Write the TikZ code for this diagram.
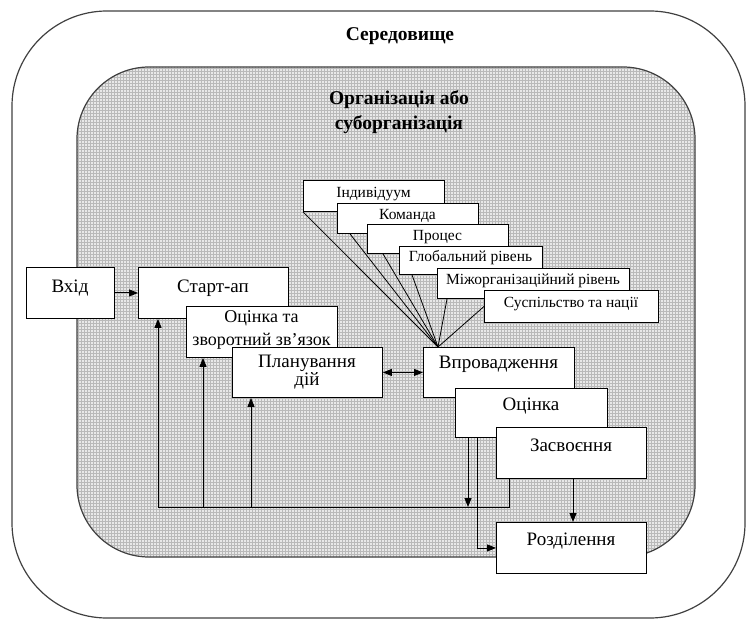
\documentclass[tikz,border=0pt]{standalone}
\usepackage{fontspec}
\setmainfont{Liberation Serif}
\usetikzlibrary{arrows.meta,patterns,calc}
\begin{document}
\begin{tikzpicture}[x=1pt,y=-1pt,
  box/.style={draw=black, line width=0.9pt, fill=white, anchor=north west, inner sep=0pt},
  maintext/.style={font=\fontsize{19}{23}\selectfont, align=center, inner sep=0pt},
  smalltext/.style={font=\fontsize{15.5}{17}\selectfont, inner sep=0pt},
  titletext/.style={font=\bfseries\fontsize{19.5}{25}\selectfont, align=center, inner sep=0pt},
  arr/.style={line width=0.9pt, -{Triangle[length=9pt,width=7pt]}},
  arrboth/.style={line width=0.9pt, {Triangle[length=9pt,width=7pt]}-{Triangle[length=9pt,width=7pt]}},
  ln/.style={line width=0.8pt},
  frame/.style={line width=1.2pt, draw=black!75}
]
\useasboundingbox (0,0) rectangle (747,620);
% environment
\draw[frame, rounded corners=95pt] (12,11) rectangle (745,618);
% organisation
\fill[gray!18, rounded corners=72pt] (77,67) rectangle (695,557);
\fill[pattern=grid, pattern color=gray!55, rounded corners=72pt] (77,67) rectangle (695,557);
\draw[frame, rounded corners=72pt] (77,67) rectangle (695,557);

\node[titletext] (env) at (400,36) {Середовище};
\node[titletext] (org) at (399,112) {Організація або\\суборганізація};

% left chain
\node[box, minimum width=88pt, minimum height=51pt] (vhid) at (26,267) {};
\node[maintext] (vhidt) at (70,288) {Вхід};
\node[box, minimum width=150pt, minimum height=51pt] (start) at (138,267) {};
\node[maintext] (startt) at (213,288) {Старт-ап};
\node[box, minimum width=151pt, minimum height=51pt] (ozv) at (186,306) {};
\node[maintext, font=\fontsize{18}{22.5}\selectfont] (ozvt) at (261.5,330) {Оцінка та\\зворотний зв’язок};
\node[box, minimum width=150pt, minimum height=50pt] (plan) at (232,347) {};
\node[maintext] (plant) at (307,372) {Планування\\[-5pt]дій};

% right chain
\node[box, minimum width=151pt, minimum height=50pt] (vpr) at (423,347) {};
\node[maintext] (vprt) at (498.5,364) {Впровадження};
\node[box, minimum width=152pt, minimum height=49pt] (ots) at (455,388) {};
\node[maintext] (otst) at (531,406) {Оцінка};
\node[box, minimum width=150pt, minimum height=51pt] (zasv) at (496,427) {};
\node[maintext] (zasvt) at (571,445) {Засвоєння};
\node[box, minimum width=150pt, minimum height=51pt] (rozd) at (496,522) {};
\node[maintext] (rozdt) at (571,541) {Розділення};

% levels
\node[box, minimum width=141pt, minimum height=31pt] (ind) at (303,180) {};
\node[smalltext] (indt) at (373.5,194) {Індивідуум};
\node[box, minimum width=141pt, minimum height=30pt] (kom) at (337,203) {};
\node[smalltext] (komt) at (407.5,216) {Команда};
\node[box, minimum width=141pt, minimum height=29pt] (proc) at (367,224) {};
\node[smalltext] (proct) at (437.5,237) {Процес};
\node[box, minimum width=143pt, minimum height=28pt] (glob) at (399,246) {};
\node[smalltext] (globt) at (470.5,258) {Глобальний рівень};
\node[box, minimum width=192pt, minimum height=30pt] (mizh) at (437,268) {};
\node[smalltext] (mizht) at (533,281) {Міжорганізаційний рівень};
\node[box, minimum width=174pt, minimum height=32pt] (susp) at (484,290) {};
\node[smalltext] (suspt) at (571,304) {Суспільство та нації};

\coordinate (conv) at ($(vpr.north west)+(15,0)$);
\draw[ln] (ind.south west) -- (conv);
\draw[ln] ($(kom.south west)+(13,0)$) -- (conv);
\draw[ln] ($(proc.south west)+(16,0)$) -- (conv);
\draw[ln] ($(glob.south west)+(13,0)$) -- (conv);
\draw[ln] ($(mizh.south west)+(10,0)$) -- (conv);
\draw[ln] (susp.west) -- (conv);

% connectors
\draw[arr] (vhid.east) -- (start.west);
\draw[arrboth] (plan.east) -- (vpr.west);

\coordinate (fb1) at (158,507);
\coordinate (fb2) at (203,507);
\coordinate (fb3) at (251,507);
\draw[ln] ($(zasv.south west)+(13,0)$) |- (fb1);
\draw[arr] (fb1) -- (fb1 |- start.south);
\draw[arr] (fb2) -- (fb2 |- ozv.south);
\draw[arr] (fb3) -- (fb3 |- plan.south);
\draw[arr] ($(ots.south west)+(13,0)$) coordinate (o1) -- (o1 |- fb1);
\draw[arr] ($(ots.south west)+(22,0)$) |- (rozd.west);
\draw[arr] ($(zasv.south west)+(77,0)$) -- ($(rozd.north west)+(77,0)$);
\end{tikzpicture}
\end{document}
